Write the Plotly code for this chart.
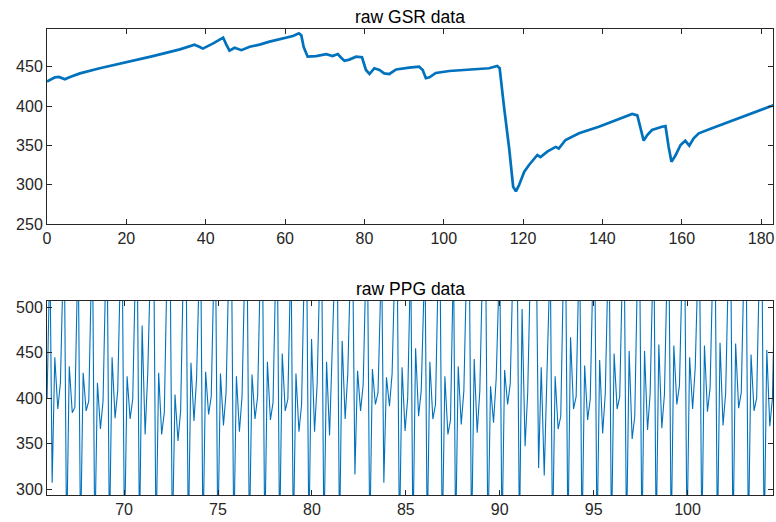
import plotly.graph_objects as go
from plotly.subplots import make_subplots

# ---------------- GSR data ----------------
gsr_t = [0, 1, 2, 3, 4.5, 5.8, 8.3, 13.3, 20, 26.7, 33.5, 37.2, 38.5, 39.3, 42, 44.0, 44.4, 45.2,
         46, 47.3, 49, 51.1, 53.6, 56.1, 59.4, 62, 63.5, 64.1, 64.7, 65.7, 67.8, 70.4, 72, 73.3,
         74.2, 75, 76.2, 77.9, 79.4, 80.4, 81.3, 82.5, 83.8, 85, 86.3, 88, 91.3, 93.8, 94.7, 95.5,
         96.4, 98, 101.4, 104.7, 108.1, 111.4, 113.5, 114.1, 115.2, 116.5, 117.5, 118.2, 119,
         120.3, 121.5, 123.6, 124.4, 126.1, 128.2, 129, 130.7, 134.1, 139.1, 144.2, 147.5, 148.8,
         149.6, 150.4, 151.3, 152.5, 155, 155.9, 156.7, 157.4, 158.4, 159.7, 160.9, 161.9, 163,
         164.3, 167.6, 171, 174.3, 177.7, 181.1, 183.1]
gsr_v = [431, 434, 436.5, 437, 434, 437, 441.5, 448, 455.5, 463.5, 472, 478, 475, 473, 480, 485,
         487, 478, 470.3, 474, 471, 475.4, 478, 481.8, 486, 489, 492.4, 490, 475, 462.7, 463.5,
         466, 463.5, 466, 461, 457.6, 459, 462.7, 462, 445.8, 440.7, 448, 445.8, 441.5, 440.7,
         446.5, 448.7, 450, 445.8, 435.3, 436.5, 442, 444.5, 445.8, 446.5, 448, 450.8, 448, 399,
         346, 297.4, 291.5, 299.6, 316.5, 325, 337.7, 335, 342, 348, 346, 356.8, 365.3, 373.7,
         383, 389.8, 388, 371.6, 356, 363, 369.5, 373.7, 374.5, 348, 329, 337, 350.4, 355.8,
         349.7, 359, 365.3, 371.6, 378, 384.4, 390.7, 397, 401]

# ---------------- PPG data (per heartbeat) ----------------
beat_t = [66.17, 66.94, 67.68, 68.44, 69.22, 70.02, 70.82, 71.70, 72.57, 73.42, 74.20, 74.99,
          75.84, 76.67, 77.49, 78.28, 79.01, 79.84, 80.64, 81.47, 82.29, 83.08, 83.83, 84.66,
          85.38, 86.14, 86.94, 87.65, 88.50, 89.37, 90.12, 91.05, 92.07, 92.81, 93.63, 94.38,
          95.18, 95.95, 96.75, 97.57, 98.33, 99.13, 99.97, 100.76, 101.59, 102.42, 103.24, 104.08]
beat_min = [307, 240, 240, 240, 240, 240, 240, 240, 240, 240, 240, 240,
            240, 240, 240, 240, 240, 240, 240, 240, 316, 240, 307, 240,
            240, 240, 240, 240, 240, 240, 240, 240, 323, 240, 240, 240,
            240, 240, 240, 240, 240, 240, 240, 240, 240, 240, 240, 240]
beat_peak = [445, 435, 428, 417, 445, 424, 480, 428, 404, 439, 429, 427,
             424, 426, 440, 449, 427, 465, 440, 463, 430, 432, 423, 434,
             455, 440, 424, 435, 443, 413, 431, 498, 434, 424, 467, 436,
             442, 449, 452, 452, 459, 458, 445, 458, 461, 460, 448, 453]
beat_trough = [388, 384, 386, 366, 378, 377, 360, 360, 353, 375, 382, 370,
               363, 377, 376, 386, 363, 363, 359, 377, 386, 393, 391, 364,
               380, 377, 360, 371, 362, 373, 393, 347, 315, 366, 388, 376,
               361, 388, 355, 365, 367, 393, 388, 385, 370, 389, 386, 369]
beat_notch = [417, 390, 397, 397, 408, 399, 428, 384, 386, 422, 402, 406,
              402, 402, 395, 399, 393, 416, 449, 427, 415, 406, 427, 400,
              408, 393, 376, 408, 408, 421, 416, 406, 420, 380, 402, 399,
              405, 402, 380, 405, 404, 414, 434, 411, 406, 406, 400, 400]
ppg_start_value = 400
ppg_high = 560

ppg_t = [65.90]
ppg_v = [ppg_start_value]
prev_end = 65.90
for i, d in enumerate(beat_t):
    if d - 0.12 > prev_end + 0.005:
        ppg_t.append(d - 0.12)
        ppg_v.append(ppg_high)
    ppg_t += [d, d + 0.14, d + 0.30, d + 0.44, d + 0.60]
    ppg_v += [beat_min[i], beat_peak[i], beat_trough[i], beat_notch[i], ppg_high]
    prev_end = d + 0.60

BLUE = "#0072BD"
AX = "#262626"
FONT = "Liberation Sans, Arial, Helvetica, sans-serif"

fig = make_subplots(rows=2, cols=1, vertical_spacing=0.0)
fig.add_trace(go.Scatter(x=gsr_t, y=gsr_v, mode="lines",
                         line=dict(color=BLUE, width=2.7), showlegend=False), row=1, col=1)
fig.add_trace(go.Scatter(x=ppg_t, y=ppg_v, mode="lines",
                         line=dict(color=BLUE, width=1.1), showlegend=False), row=2, col=1)

H_PLOT = 466.0
axis_common = dict(showline=True, mirror="ticks", linecolor=AX, linewidth=1,
                   ticks="inside", ticklen=5, tickcolor=AX, tickwidth=1,
                   showgrid=False, zeroline=False, ticklabeloverflow="allow",
                   tickfont=dict(family=FONT, size=16, color=AX))

fig.update_xaxes(**axis_common)
fig.update_yaxes(**axis_common)

fig.update_layout(
    width=776, height=522,
    margin=dict(l=47, r=1, t=29, b=27),
    paper_bgcolor="white", plot_bgcolor="white",
    xaxis=dict(domain=[0, 1], range=[0, 183.0], tickvals=[0, 20, 40, 60, 80, 100, 120, 140, 160, 180]),
    yaxis=dict(domain=[271 / H_PLOT, 1.0], range=[250, 497.9], tickvals=[250, 300, 350, 400, 450]),
    xaxis2=dict(domain=[0, 1], range=[65.895, 104.55], tickvals=[70, 75, 80, 85, 90, 95, 100]),
    yaxis2=dict(domain=[0, 194 / H_PLOT], range=[293.4, 506.9], tickvals=[300, 350, 400, 450, 500]),
    annotations=[
        dict(text="raw GSR data", x=0.5, xref="paper", y=1 + 12 / H_PLOT, yref="paper",
             xanchor="center", yanchor="middle", showarrow=False,
             font=dict(family=FONT, size=17.5, color="black")),
        dict(text="raw PPG data", x=0.5, xref="paper", y=(194 + 12) / H_PLOT, yref="paper",
             xanchor="center", yanchor="middle", showarrow=False,
             font=dict(family=FONT, size=17.5, color="black")),
    ],
)

fig.write_html(
    "out.html",
    config={"displayModeBar": False},
    post_script="document.body.style.margin='0';document.body.style.padding='0';"
                "document.documentElement.style.overflow='hidden';",
)
